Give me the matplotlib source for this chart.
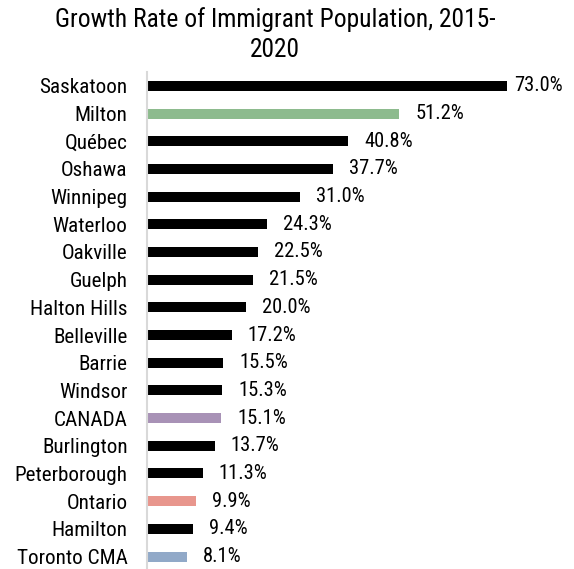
import matplotlib
matplotlib.use("Agg")
import matplotlib.pyplot as plt

# growth of immigrant population 2015-2020, percent
places = ["Saskatoon", "Milton", "Québec", "Oshawa", "Winnipeg", "Waterloo",
          "Oakville", "Guelph", "Halton Hills", "Belleville", "Barrie", "Windsor",
          "CANADA", "Burlington", "Peterborough", "Ontario", "Hamilton", "Toronto CMA"]
growth = [73.0, 51.2, 40.8, 37.7, 31.0, 24.3, 22.5, 21.5, 20.0, 17.2, 15.5, 15.3,
          15.1, 13.7, 11.3, 9.9, 9.4, 8.1]

# highlighted rows get their own colour, everything else is black
highlight = {"Milton": "#8dbb8e", "CANADA": "#a892b6",
             "Ontario": "#e8968d", "Toronto CMA": "#91a9c8"}
colors = [highlight.get(p, "#000000") for p in places]

plt.rcParams['font.family'] = ['Roboto Condensed', 'Liberation Sans Narrow', 'Roboto', 'DejaVu Sans']

fig = plt.figure(figsize=(5.74, 5.69), dpi=100)
ax = fig.add_axes([147 / 574, 0.0, 427 / 574, 497 / 569])

ypos = list(range(len(places)))
ax.barh(ypos, growth, height=0.36, color=colors)
ax.set_ylim(17.45, -0.5)
ax.set_xlim(0, 86.6)

ax.set_yticks(ypos)
ax.set_yticklabels(places, fontsize=15.2)
ax.tick_params(axis='y', length=0, pad=14)
ax.set_xticks([])

for sp in ["top", "right", "bottom"]:
    ax.spines[sp].set_visible(False)
ax.spines["left"].set_color("#d9d9d9")
ax.spines["left"].set_linewidth(1.5)

for y, v in zip(ypos, growth):
    # the longest bar gets a tighter gap so its label stays on the page
    off = 5.5 if v == max(growth) else 11.5
    ax.annotate("%.1f%%" % v, xy=(v, y), xytext=(off, 0), textcoords="offset points",
                va="center", ha="left", fontsize=14.8)

fig.text(275 / 574, 1 - 7 / 569, "Growth Rate of Immigrant Population, 2015-\n2020",
         ha="center", va="top", fontsize=18.4, linespacing=1.3)

fig.savefig("out.png", dpi=100)
